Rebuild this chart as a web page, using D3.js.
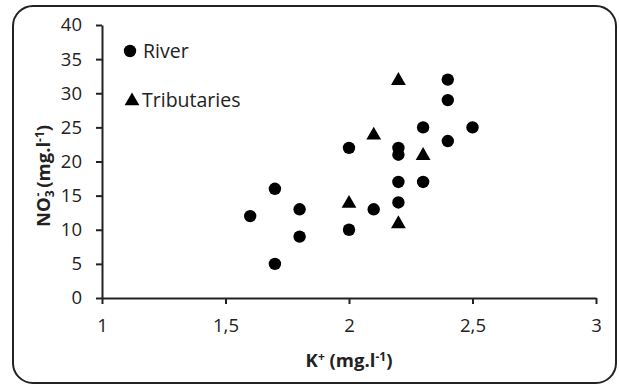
<!DOCTYPE html>
<html>
<head>
<meta charset="utf-8">
<script src="https://cdn.jsdelivr.net/npm/d3@7"></script>
<style>
  html, body { margin: 0; padding: 0; background: #fff; }
  svg { display: block; }
  text { font-family: "Open Sans", sans-serif; fill: #222; }
</style>
</head>
<body>
<svg id="chart" width="619" height="386"></svg>
<script>
// K+ (mg/l) and NO3- (mg/l) measured in the river and in its tributaries
const riverK   = [1.6, 1.7, 1.7, 1.8, 1.8, 2.0, 2.0, 2.1, 2.2, 2.2, 2.2, 2.2, 2.3, 2.3, 2.4, 2.4, 2.4, 2.5];
const riverNO3 = [12, 16, 5, 13, 9, 22, 10, 13, 22, 21, 17, 14, 25, 17, 32, 29, 23, 25];
const tribK    = [2.0, 2.1, 2.2, 2.2, 2.3];
const tribNO3  = [14, 24, 32, 11, 21];

const xTicks = [1, 1.5, 2, 2.5, 3];
const yTicks = [0, 5, 10, 15, 20, 25, 30, 35, 40];

const svg = d3.select("#chart");
const ink = "#222";
const font = "'Open Sans', sans-serif";

// outer rounded frame
svg.append("rect")
  .attr("x", 13).attr("y", 6)
  .attr("width", 603).attr("height", 377)
  .attr("rx", 20).attr("ry", 20)
  .attr("fill", "#fff")
  .attr("stroke", ink).attr("stroke-width", 2);

const x = d3.scaleLinear().domain([1, 3]).range([102, 596]);
const y = d3.scaleLinear().domain([0, 40]).range([298, 25]);

const fmt = d => String(d).replace(".", ",");

const xAxis = svg.append("g")
  .attr("transform", `translate(0,${y(0)})`)
  .call(d3.axisBottom(x).tickValues(xTicks).tickFormat(fmt).tickSize(6).tickSizeOuter(0).tickPadding(15));

const yAxis = svg.append("g")
  .attr("transform", `translate(${x(1)},0)`)
  .call(d3.axisLeft(y).tickValues(yTicks).tickSize(6).tickSizeOuter(0).tickPadding(14));

[xAxis, yAxis].forEach(g => {
  g.select(".domain").attr("stroke", ink).attr("stroke-width", 2);
  g.selectAll(".tick line").attr("stroke", ink).attr("stroke-width", 2);
  g.selectAll(".tick text").attr("font-size", 18.5).attr("fill", ink)
    .style("font-family", font);
});

// river samples
svg.append("g").selectAll("circle")
  .data(riverK.map((k, i) => [k, riverNO3[i]]))
  .join("circle")
  .attr("cx", d => x(d[0]))
  .attr("cy", d => y(d[1]))
  .attr("r", 6.2)
  .attr("fill", "#000");

// tributary samples
const tri = d3.symbol().type(d3.symbolTriangle).size(95);
svg.append("g").selectAll("path")
  .data(tribK.map((k, i) => [k, tribNO3[i]]))
  .join("path")
  .attr("d", tri)
  .attr("transform", d => `translate(${x(d[0])},${y(d[1]) + 1})`)
  .attr("fill", "#000");

// legend
svg.append("circle").attr("cx", 130).attr("cy", 51).attr("r", 6.2).attr("fill", "#000");
svg.append("text").attr("x", 143).attr("y", 58).attr("font-size", 19.5).text("River");
svg.append("path").attr("d", tri).attr("transform", "translate(132,101)").attr("fill", "#000");
svg.append("text").attr("x", 142).attr("y", 107).attr("font-size", 19.5).text("Tributaries");

// x-axis title: K+ (mg.l-1)
const xt = svg.append("text")
  .attr("x", x(2)).attr("y", 367)
  .attr("text-anchor", "middle")
  .attr("font-size", 18.5).attr("font-weight", "bold");
xt.append("tspan").text("K");
xt.append("tspan").attr("dy", -6).attr("font-size", 12).text("+");
xt.append("tspan").attr("dy", 6).text(" (mg.l");
xt.append("tspan").attr("dy", -6).attr("font-size", 12).text("-1");
xt.append("tspan").attr("dy", 6).text(")");

// y-axis title: NO3- (mg.l-1)
const yt = svg.append("text")
  .attr("transform", "translate(50,176) rotate(-90)")
  .attr("text-anchor", "middle")
  .attr("font-size", 18.5).attr("font-weight", "bold");
yt.append("tspan").text("NO");
yt.append("tspan").attr("dy", 4).attr("font-size", 12).text("3");
yt.append("tspan").attr("dy", -12).attr("dx", -6).attr("font-size", 12).text("-");
yt.append("tspan").attr("dy", 8).text(" (mg.l");
yt.append("tspan").attr("dy", -6).attr("font-size", 12).text("-1");
yt.append("tspan").attr("dy", 6).text(")");
</script>
</body>
</html>
